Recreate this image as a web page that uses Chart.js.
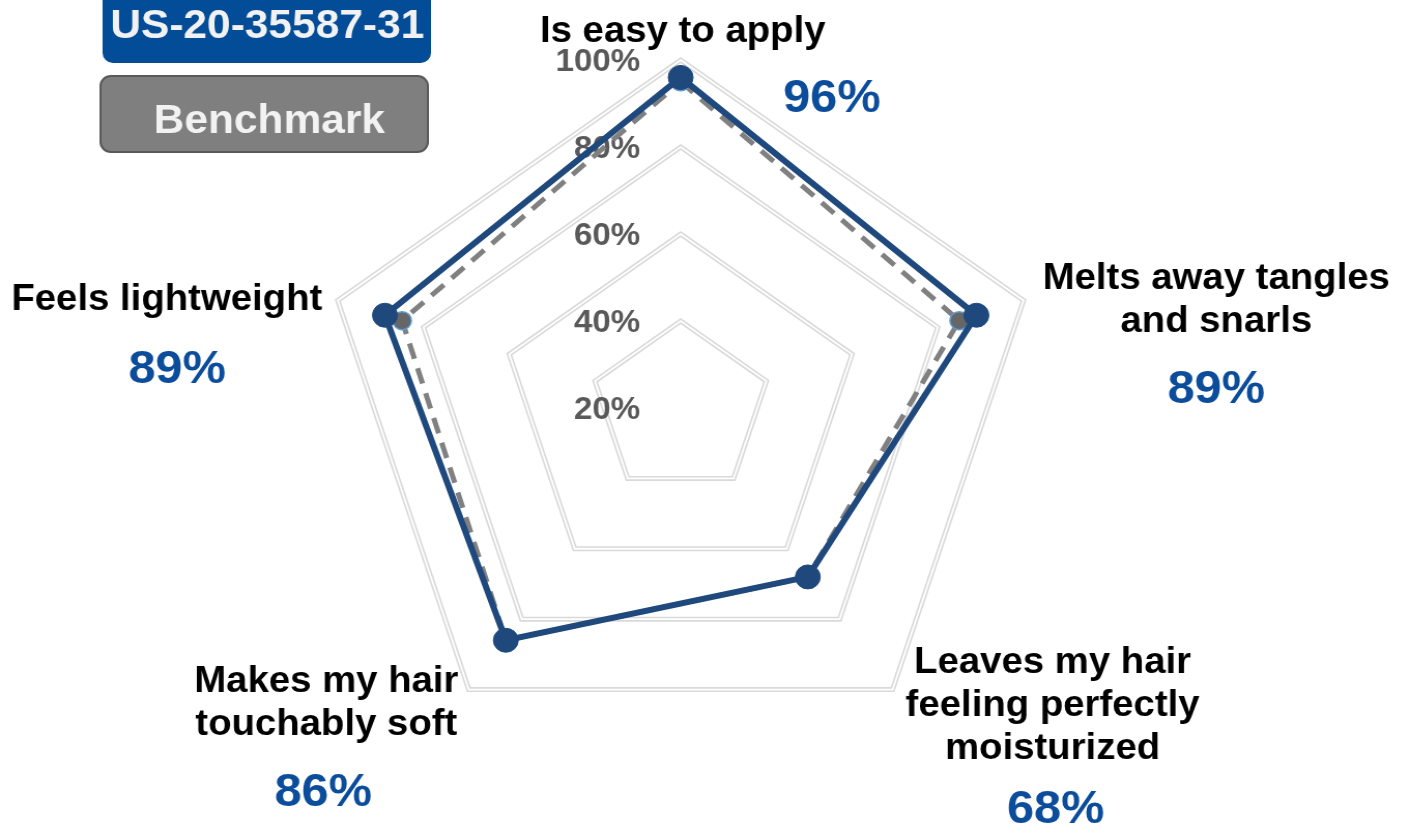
<!DOCTYPE html>
<html>
<head>
<meta charset="utf-8">
<script src="https://cdn.jsdelivr.net/npm/chart.js"></script>
<style>
  html, body { margin: 0; padding: 0; background: #fff; overflow: hidden; }
  /* the reference is slightly wider than tall, stretch the whole drawing a bit */
  #wrap { width: 1352px; height: 825px; transform: scaleX(1.036); transform-origin: 0 0; }
</style>
</head>
<body>
<div id="wrap"><canvas id="radarChart" width="1352" height="825"></canvas></div>
<script>
let categories = [
  ['Is easy to apply'],
  ['Melts away tangles', 'and snarls'],
  ['Leaves my hair', 'feeling perfectly', 'moisturized'],
  ['Makes my hair', 'touchably soft'],
  ['Feels lightweight']
]
let productValues = [96, 89, 68, 86, 89]
let benchmarkValues = [95, 85, 68, 86, 85]
let tickValues = [20, 40, 60, 80, 100]
let seriesNames = ['US-20-35587-31', 'Benchmark']

// where each category caption goes (x, first baseline, value x, value baseline)
let captionPos = [
  [659, 42, 803, 112],
  [1174, 289, 1174, 403],
  [1016, 673, 1019, 823],
  [315, 692, 312, 806],
  [161, 310, 171, 383]
]
let fontFamily = '"Liberation Sans", Arial, sans-serif'

let decor = {
  id: 'decor',
  beforeDatasetsDraw(chart) {
    let ctx = chart.ctx
    let r = chart.scales.r
    ctx.save()
    // split each grid ring into a double line
    ctx.strokeStyle = '#ffffff'
    ctx.lineWidth = 1.8
    tickValues.slice(1).forEach(v => {
      ctx.beginPath()
      categories.forEach((c, i) => {
        let p = r.getPointPositionForValue(i, v)
        if (i === 0) ctx.moveTo(p.x, p.y)
        else ctx.lineTo(p.x, p.y)
      })
      ctx.closePath()
      ctx.stroke()
    })
    // tick labels
    ctx.fillStyle = '#595959'
    ctx.font = 'bold 32px ' + fontFamily
    ctx.textAlign = 'right'
    ctx.textBaseline = 'middle'
    tickValues.forEach(v => {
      ctx.fillText(v + '%', r.xCenter - 39, r.yCenter - r.getDistanceFromCenterForValue(v) + 2)
    })
    ctx.restore()
  },
  afterDraw(chart) {
    let ctx = chart.ctx
    ctx.save()
    ctx.textAlign = 'center'
    ctx.textBaseline = 'alphabetic'
    categories.forEach((lines, i) => {
      let [x, y, vx, vy] = captionPos[i]
      ctx.fillStyle = '#000000'
      ctx.font = 'bold 37px ' + fontFamily
      lines.forEach((line, k) => ctx.fillText(line, x, y + k * 43))
      ctx.fillStyle = '#0b4c9b'
      ctx.font = 'bold 47px ' + fontFamily
      ctx.fillText(productValues[i] + '%', vx, vy)
    })

    // legend boxes
    ctx.fillStyle = '#034d98'
    ctx.beginPath()
    ctx.roundRect(99, -15, 317, 78, 10)
    ctx.fill()
    ctx.fillStyle = '#7f7f7f'
    ctx.strokeStyle = '#595959'
    ctx.lineWidth = 2
    ctx.beginPath()
    ctx.roundRect(97, 76, 316, 76, 10)
    ctx.fill()
    ctx.stroke()
    ctx.fillStyle = '#f2f2f2'
    ctx.font = 'bold 41px ' + fontFamily
    ctx.fillText(seriesNames[0], 258, 38)
    ctx.fillText(seriesNames[1], 260, 133)
    ctx.restore()
  }
}

let radarChart = document.getElementById('radarChart').getContext('2d')

new Chart(radarChart, {
  type: 'radar',
  data: {
    labels: categories,
    datasets: [{
      label: seriesNames[0],
      data: productValues,
      borderColor: '#1f497d',
      borderWidth: 6,
      pointRadius: 12,
      pointBackgroundColor: '#1f497d',
      pointBorderColor: '#1f497d',
      pointBorderWidth: 1,
      fill: false
    }, {
      label: seriesNames[1],
      data: benchmarkValues,
      borderColor: '#808080',
      borderWidth: 5,
      borderDash: [16, 10],
      pointRadius: 9,
      pointBackgroundColor: '#666666',
      pointBorderColor: '#5b9bd5',
      pointBorderWidth: 1.5,
      fill: false
    }]
  },
  options: {
    responsive: false,
    animation: false,
    layout: { padding: { top: 60, bottom: 69, left: 309, right: 347 } },
    plugins: { legend: { display: false }, tooltip: { enabled: false } },
    scales: {
      r: {
        min: 20,
        max: 100,
        ticks: { stepSize: 20, display: false },
        grid: { color: '#d9d9d9', lineWidth: 5, circular: false },
        angleLines: { display: false },
        pointLabels: { display: false }
      }
    }
  },
  plugins: [decor]
})
</script>
</body>
</html>
